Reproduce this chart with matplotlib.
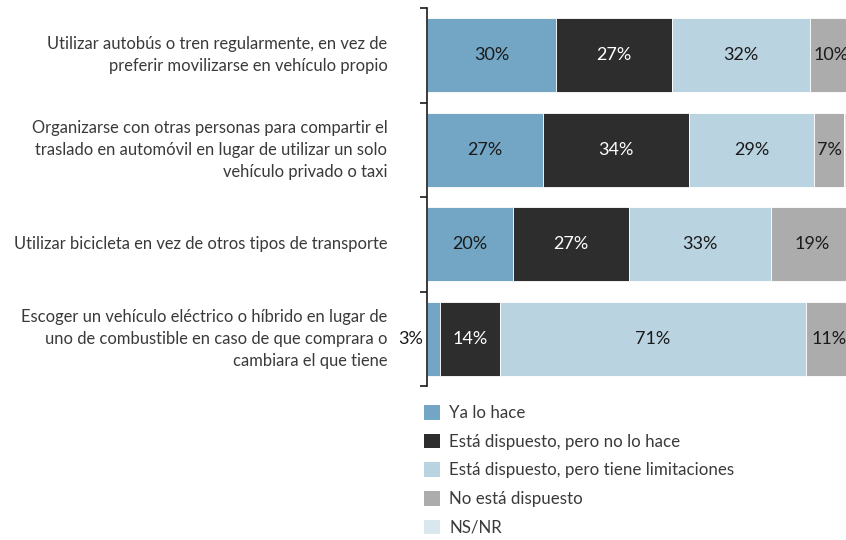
import numpy as np
import matplotlib.pyplot as plt
from matplotlib.patches import Patch

plt.rcParams['font.family'] = ['Lato', 'DejaVu Sans']

categorias = [
    'Utilizar autobús o tren regularmente, en vez de\npreferir movilizarse en vehículo propio',
    'Organizarse con otras personas para compartir el\ntraslado en automóvil en lugar de utilizar un solo\nvehículo privado o taxi',
    'Utilizar bicicleta en vez de otros tipos de transporte',
    'Escoger un vehículo eléctrico o híbrido en lugar de\nuno de combustible en caso de que comprara o\ncambiara el que tiene',
]
series = ['Ya lo hace', 'Está dispuesto, pero no lo hace',
          'Está dispuesto, pero tiene limitaciones', 'No está dispuesto', 'NS/NR']

ya_lo_hace = [30, 27, 20, 3]
dispuesto_no_hace = [27, 34, 27, 14]
dispuesto_limitaciones = [32, 29, 33, 71]
no_dispuesto = [10, 7, 19, 11]
ns_nr = [1, 3, 1, 1]

colores = ['#72a6c4', '#2d2d2d', '#b9d3e0', '#acacac', '#dae7ef']
color_texto = ['#1a1a1a', 'white', '#1a1a1a', '#1a1a1a', '#1a1a1a']

datos = np.array([ya_lo_hace, dispuesto_no_hace, dispuesto_limitaciones, no_dispuesto, ns_nr])

fig = plt.figure(figsize=(8.46, 5.40), dpi=100)
ax = fig.add_axes([427 / 846, 1 - 386 / 540, 1 - 427 / 846, (386 - 8) / 540])

y = np.arange(len(categorias))
izq = np.zeros(len(categorias))
for i in range(len(series)):
    ax.barh(y, datos[i], left=izq, height=0.78, color=colores[i],
            edgecolor='white', linewidth=0.6, label=series[i])
    if i < 4:
        for j in range(len(categorias)):
            v = datos[i][j]
            if v < 5:
                # valor pequeño: etiqueta fuera de la barra, a la izquierda
                ax.text(-1.0, y[j], f'{v}%', ha='right', va='center',
                        fontsize=13, color='#1a1a1a', clip_on=False)
            else:
                ax.text(izq[j] + v / 2, y[j], f'{v}%', ha='center', va='center',
                        fontsize=13, color=color_texto[i], clip_on=False)
    izq += datos[i]

ax.set_xlim(0, 97.4)
ax.set_ylim(3.5, -0.5)
ax.set_xticks([])
ax.set_yticks([-0.5, 0.5, 1.5, 2.5, 3.5])
ax.set_yticklabels([])
ax.tick_params(axis='y', direction='out', length=5, width=1.2, color='#1a1a1a')
for s in ['top', 'right', 'bottom']:
    ax.spines[s].set_visible(False)
ax.spines['left'].set_linewidth(1.2)
ax.spines['left'].set_color('#1a1a1a')

for j, cat in enumerate(categorias):
    ax.text(-9.2, y[j], cat, ha='right', va='center', fontsize=11.9,
            color='#3a3a3a', linespacing=1.45, clip_on=False)

manejadores = [Patch(facecolor=c, edgecolor='none') for c in colores]
fig.legend(manejadores, series, loc='upper left',
           bbox_to_anchor=(424 / 846, 1 - 405 / 540), frameon=False,
           fontsize=12.2, handlelength=0.95, handleheight=0.95,
           handletextpad=0.55, labelspacing=0.74, labelcolor='#3a3a3a',
           borderaxespad=0, borderpad=0)

fig.savefig('out.png', dpi=100)
